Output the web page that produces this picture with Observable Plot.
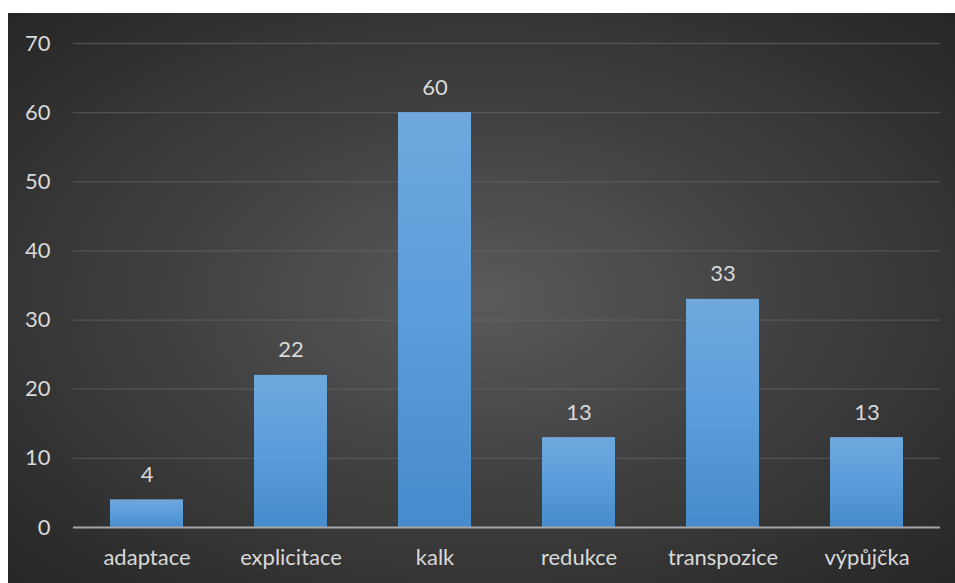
<!DOCTYPE html>
<html>
<head>
<meta charset="utf-8">
<script src="https://cdn.jsdelivr.net/npm/d3@7"></script>
<script src="https://cdn.jsdelivr.net/npm/@observablehq/plot@0.6"></script>
<style>
  html, body { margin: 0; padding: 0; background: #ffffff; }
  #chart {
    position: absolute; left: 8px; top: 13px; width: 947px; height: 570px;
    background: radial-gradient(ellipse farthest-corner at 50% 50%, #5a5a5a 0%, #414141 45%, #262626 100%);
    font-family: Lato, "Open Sans", sans-serif;
  }
  #chart svg { background: transparent; display: block; }
</style>
</head>
<body>
<div id="chart"></div>
<script>
const categories = ["adaptace", "explicitace", "kalk", "redukce", "transpozice", "výpůjčka"];
const values = [4, 22, 60, 13, 33, 13];
const yTicks = [0, 10, 20, 30, 40, 50, 60, 70];

const data = categories.map((c, i) => ({category: c, value: values[i]}));

const textColor = "#d9d9d9";

const plot = Plot.plot({
  width: 947,
  height: 570,
  marginLeft: 65,
  marginRight: 15,
  marginTop: 30,
  marginBottom: 56,
  style: {background: "transparent", fontFamily: "Lato, 'Open Sans', sans-serif", fontSize: "22px", color: textColor},
  x: {domain: categories, paddingInner: 0.495, paddingOuter: 0.2475, label: null},
  y: {domain: [0, 70], label: null},
  marks: [
    Plot.gridY(yTicks.filter(d => d > 0), {stroke: "#6a6a6a", strokeOpacity: 0.55, strokeWidth: 1.3}),
    Plot.axisY(yTicks, {tickSize: 0, tickPadding: 23, fontSize: 22, fill: textColor, label: null}),
    Plot.axisX({tickSize: 0, tickPadding: 22, fontSize: 22, fill: textColor, label: null}),
    Plot.barY(data, {x: "category", y: "value", fill: "url(#barGrad)", style: {filter: "drop-shadow(2px 2px 3px rgba(0,0,0,0.45))"}}),
    Plot.ruleY([0], {stroke: "#a6a6a6", strokeWidth: 2}),
    Plot.text(data, {x: "category", y: "value", text: d => String(d.value), dy: -25, fill: textColor, fontSize: 22})
  ]
});

const ns = "http://www.w3.org/2000/svg";
const defs = document.createElementNS(ns, "defs");
defs.innerHTML = `<linearGradient id="barGrad" x1="0" y1="0" x2="0" y2="1">
  <stop offset="0%" stop-color="#6fa8dc"/>
  <stop offset="50%" stop-color="#5a9ddc"/>
  <stop offset="100%" stop-color="#468bcb"/>
</linearGradient>`;
plot.insertBefore(defs, plot.firstChild);
document.getElementById("chart").appendChild(plot);
</script>
</body>
</html>
